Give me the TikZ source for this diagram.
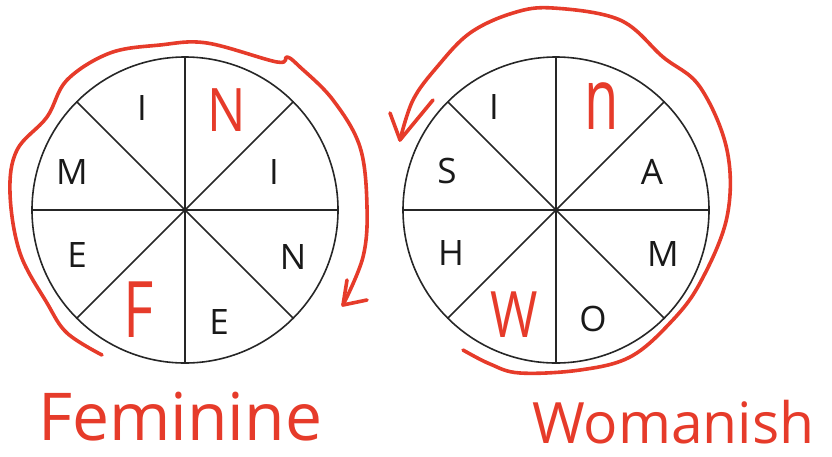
\documentclass[tikz,border=0pt]{standalone}
\usepackage{fontspec}
\setmainfont{Open Sans}
\usepackage{graphicx}
\definecolor{penred}{HTML}{E63B2A}

\begin{document}
\begin{tikzpicture}[
    x=1pt, y=-1pt,
    wheel/.style={draw, circle, minimum size=306, inner sep=0pt, outer sep=0pt, line width=1.6pt, black!85},
    spoke/.style={line width=1.6pt, black!85},
    letter/.style={font=\fontsize{35}{40}\selectfont, text=black!90, inner sep=0pt},
    scrawl/.style={text=penred, inner sep=0pt},
    pen/.style={draw=penred, line width=3.6pt, line cap=round, line join=round},
    word/.style={text=penred, inner sep=0pt, anchor=base west},
]
\useasboundingbox (0,0) rectangle (832,456);

% Wheels (left: feminine, right: womanish)
\node[wheel] (fem) at (185,210) {};
\node[wheel] (wom) at (556,210) {};
\foreach \w in {fem,wom} {
    \draw[spoke] (\w.north) -- (\w.south);
    \draw[spoke] (\w.west) -- (\w.east);
    \draw[spoke] (\w.north west) -- (\w.south east);
    \draw[spoke] (\w.north east) -- (\w.south west);
}

% Printed letters
\foreach \n/\x/\y/\t in {fI/142/108/I, fM/72/172/M, fE/77/255/E, fEb/219/322/E, fN/293/257/N, fIr/274/172/I,
                         wI/494/107/I, wS/447/171/S, wH/451/253/H, wO/593/319/O, wM/663/254/M, wA/652/172/A}
    \node[letter] (\n) at (\x,\y) {\t};

% Hand-written letters
\node[scrawl, font=\fontsize{60}{60}\selectfont] (fNred) at (227,110) {\scalebox{0.85}[1]{N}};
\node[scrawl, font=\fontsize{78}{78}\selectfont] (fFred) at (139,310) {\scalebox{0.75}[1]{F}};
\node[scrawl, font=\fontsize{86}{86}\selectfont] (wnred) at (602,106) {\scalebox{0.65}[1]{n}};
\node[scrawl, font=\fontsize{64}{64}\selectfont] (wWred) at (514,315) {\scalebox{0.8}[1]{W}};

% Hand-written words
\node[word, font=\fontsize{66}{70}\selectfont] (femWord) at (38,440) {Feminine};
\node[word, font=\fontsize{57}{62}\selectfont] (womWord) at (532,443) {Womanish};

% Arrow round the left wheel
\coordinate (femTail) at (102,355);
\coordinate (femTip)  at (343,305);
\draw[pen] plot[smooth, tension=0.6] coordinates {(femTail) (67,333) (47,303) (20,253) (10,193) (17,150) (47,117)
    (67,80) (110,53) (160,45) (207,43) (277,62) (287,57) (300,67) (333,100) (360,147) (367,207) (363,257) (femTip)};
\draw[pen] ([shift={(4,-25)}]femTip) -- (femTip) -- ++(24,-5);

% Arrow round the right wheel
\coordinate (womTail) at (463,350);
\coordinate (womTip)  at (400,140);
\draw[pen] plot[smooth, tension=0.6] coordinates {(womTail) (490,364) (520,373) (580,370) (630,357) (670,323)
    (700,283) (727,217) (727,150) (700,87) (663,57) (620,20) (553,8) (513,13) (470,33) (437,67) (413,100) (womTip)};
\draw[pen] ([shift={(-10,-27)}]womTip) -- (womTip) -- ++(33,-40);
\end{tikzpicture}
\end{document}
